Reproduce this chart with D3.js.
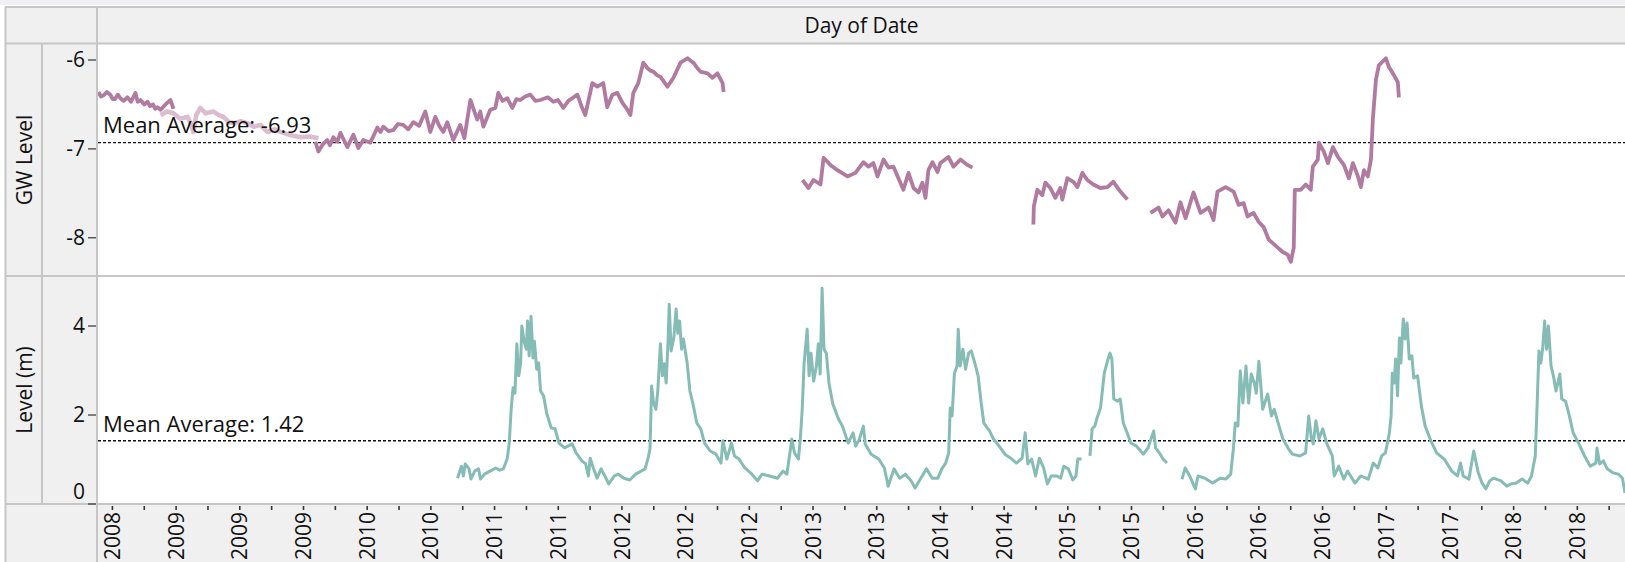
<!DOCTYPE html>
<html><head><meta charset="utf-8">
<script src="https://cdn.jsdelivr.net/npm/d3@7"></script>
<style>
body{margin:0;background:#fff;}
svg{display:block;font-family:"Open Sans","Noto Sans",sans-serif;}
</style>
</head><body>
<svg id="chart" width="1625" height="562"></svg>
<script>
// ---------------- DATA ----------------
const headerTitle = "Day of Date";
const rowTitles = ["GW Level", "Level (m)"];
const xDomain = ["2008-07-11", "2018-12-18"];
const xTickDates = ["2008-08-16","2009-01-22","2009-06-30","2009-12-06","2010-05-14","2010-10-20",
  "2011-03-28","2011-09-03","2012-02-09","2012-07-17","2012-12-23","2013-05-31","2013-11-06",
  "2014-04-14","2014-09-20","2015-02-26","2015-08-04","2016-01-10","2016-06-17","2016-11-23",
  "2017-05-01","2017-10-07","2018-03-15","2018-08-21"];
const xTickLabels = ["2008","2009","2009","2009","2010","2010","2011","2011","2012","2012","2012",
  "2013","2013","2014","2014","2015","2015","2016","2016","2016","2017","2017","2018","2018"];
const gwTicks = [-6, -7, -8];
const gwDomain = [-8.43, -5.82];
const levelTicks = [0, 2, 4];
const levelDomain = [0, 5.124];
const gwMean = -6.93;
const levelMean = 1.42;

// [decimal year, value]; null value = gap in record
const gwLevel = [
 [2008.527,-6.36],[2008.545,-6.41],[2008.560,-6.40],[2008.585,-6.36],[2008.609,-6.39],[2008.625,-6.44],
 [2008.640,-6.44],[2008.660,-6.39],[2008.677,-6.43],[2008.700,-6.46],[2008.725,-6.42],[2008.750,-6.47],
 [2008.780,-6.37],[2008.795,-6.47],[2008.814,-6.45],[2008.840,-6.50],[2008.862,-6.47],[2008.880,-6.52],
 [2008.900,-6.50],[2008.915,-6.55],[2008.930,-6.53],[2008.951,-6.56],
 [2008.985,-6.50],[2009.019,-6.45],[2009.040,-6.55],[2009.050,null],
 [2010.010,-6.92],[2010.031,-7.03],[2010.060,-6.95],[2010.092,-6.90],[2010.110,-6.96],[2010.133,-6.87],
 [2010.160,-6.92],[2010.181,-6.82],[2010.205,-6.90],
 [2010.229,-6.98],[2010.270,-6.84],[2010.304,-6.99],[2010.338,-6.90],[2010.386,-6.93],[2010.434,-6.76],
 [2010.455,-6.81],[2010.475,-6.75],[2010.510,-6.80],[2010.543,-6.79],[2010.575,-6.72],[2010.611,-6.73],
 [2010.645,-6.78],[2010.680,-6.70],[2010.720,-6.74],[2010.762,-6.58],[2010.796,-6.81],
 [2010.830,-6.64],[2010.860,-6.75],[2010.885,-6.81],[2010.912,-6.70],[2010.953,-6.90],[2011.001,-6.73],[2011.029,-6.88],
 [2011.070,-6.45],[2011.117,-6.67],[2011.138,-6.58],[2011.159,-6.75],[2011.206,-6.56],[2011.241,-6.54],
 [2011.261,-6.37],[2011.290,-6.46],[2011.323,-6.43],[2011.357,-6.54],[2011.385,-6.44],[2011.412,-6.45],
 [2011.445,-6.41],[2011.480,-6.39],[2011.515,-6.46],[2011.549,-6.45],
 [2011.600,-6.42],[2011.638,-6.47],[2011.670,-6.45],[2011.706,-6.54],[2011.740,-6.46],[2011.767,-6.43],
 [2011.802,-6.39],[2011.830,-6.52],[2011.856,-6.62],
 [2011.904,-6.26],[2011.938,-6.30],[2011.979,-6.26],[2012.006,-6.53],[2012.041,-6.39],[2012.075,-6.37],
 [2012.109,-6.48],[2012.140,-6.55],[2012.164,-6.62],[2012.184,-6.37],[2012.218,-6.26],[2012.252,-6.03],[2012.280,-6.09],
 [2012.300,-6.12],[2012.321,-6.13],[2012.345,-6.17],[2012.369,-6.19],[2012.395,-6.25],[2012.417,-6.30],
 [2012.458,-6.20],[2012.480,-6.12],[2012.506,-6.03],[2012.553,-5.98],
 [2012.594,-6.03],[2012.620,-6.09],[2012.642,-6.13],[2012.690,-6.15],[2012.724,-6.20],[2012.758,-6.15],[2012.793,-6.26],
 [2012.800,-6.36],[2012.900,null],
 [2013.339,-7.35],[2013.380,-7.44],[2013.414,-7.35],[2013.462,-7.40],[2013.483,-7.10],[2013.530,-7.18],
 [2013.578,-7.24],[2013.647,-7.31],[2013.701,-7.27],[2013.756,-7.15],[2013.790,-7.20],[2013.824,-7.16],
 [2013.852,-7.31],[2013.893,-7.12],[2013.927,-7.21],[2013.961,-7.20],[2013.995,-7.33],[2014.029,-7.46],
 [2014.064,-7.27],[2014.098,-7.44],[2014.132,-7.49],[2014.159,-7.38],[2014.180,-7.55],[2014.200,-7.24],
 [2014.228,-7.15],[2014.262,-7.26],[2014.282,-7.16],[2014.337,-7.09],[2014.371,-7.20],[2014.419,-7.12],
 [2014.467,-7.18],[2014.501,-7.21],[2014.600,null],
 [2014.918,-7.85],[2014.921,-7.65],[2014.945,-7.46],[2014.979,-7.52],[2015.000,-7.38],[2015.034,-7.44],
 [2015.068,-7.55],[2015.102,-7.44],[2015.116,-7.57],[2015.150,-7.33],[2015.191,-7.37],[2015.219,-7.43],
 [2015.253,-7.27],[2015.287,-7.35],[2015.328,-7.40],[2015.376,-7.44],[2015.424,-7.43],[2015.465,-7.37],
 [2015.513,-7.48],[2015.561,-7.57],[2015.640,null],
 [2015.719,-7.72],[2015.774,-7.66],[2015.801,-7.76],[2015.842,-7.69],[2015.890,-7.83],[2015.924,-7.60],
 [2015.959,-7.78],[2016.013,-7.49],[2016.061,-7.72],[2016.116,-7.66],[2016.150,-7.80],[2016.177,-7.48],
 [2016.232,-7.43],[2016.287,-7.48],[2016.321,-7.63],[2016.355,-7.61],[2016.382,-7.76],[2016.423,-7.72],
 [2016.457,-7.82],[2016.492,-7.88],[2016.526,-8.02],[2016.588,-8.11],[2016.622,-8.16],[2016.656,-8.19],
 [2016.677,-8.27],[2016.697,-8.11],[2016.704,-7.46],[2016.745,-7.46],[2016.779,-7.40],[2016.813,-7.46],
 [2016.827,-7.20],[2016.861,-7.12],[2016.868,-6.93],[2016.902,-7.03],[2016.930,-7.16],[2016.964,-6.98],
 [2016.998,-7.09],[2017.039,-7.18],[2017.073,-7.33],[2017.101,-7.16],[2017.135,-7.31],[2017.155,-7.43],
 [2017.176,-7.24],[2017.203,-7.31],[2017.224,-7.12],[2017.237,-6.67],[2017.258,-6.22],[2017.278,-6.06],
 [2017.326,-5.98],[2017.347,-6.08],[2017.381,-6.17],[2017.408,-6.25],[2017.415,-6.42]
];

const gwLevelLight = [
 [2008.951,-6.62],[2008.995,-6.58],[2009.040,-6.60],[2009.085,-6.66],[2009.135,-6.64],[2009.160,-6.72],
 [2009.176,-6.81],[2009.195,-6.62],[2009.224,-6.54],[2009.260,-6.60],[2009.313,-6.58],[2009.350,-6.62],
 [2009.381,-6.64],[2009.420,-6.70],[2009.450,-6.71],[2009.500,-6.69],[2009.545,-6.71],[2009.590,-6.75],
 [2009.634,-6.73],[2009.682,-6.81],[2009.730,-6.78],[2009.791,-6.82],[2009.850,-6.85],[2009.908,-6.87],
 [2009.970,-6.86],[2010.031,-6.88]
];

const riverLevel = [
 [2010.982,0.58],[2011.009,0.85],[2011.022,0.63],[2011.035,0.90],[2011.061,0.79],[2011.074,0.56],
 [2011.100,0.74],[2011.126,0.79],[2011.139,0.56],[2011.166,0.67],[2011.205,0.74],[2011.244,0.81],
 [2011.270,0.76],[2011.296,0.79],[2011.323,1.03],[2011.336,1.37],[2011.349,2.13],[2011.362,2.61],
 [2011.375,2.49],[2011.388,3.60],[2011.401,2.88],[2011.414,3.17],[2011.422,4.00],[2011.440,3.62],
 [2011.453,3.48],[2011.461,4.11],[2011.472,3.33],[2011.485,4.22],[2011.498,3.28],[2011.508,3.66],
 [2011.524,3.03],[2011.537,3.17],[2011.550,2.54],[2011.571,2.43],[2011.592,2.04],[2011.623,1.71],
 [2011.650,1.69],[2011.676,1.37],[2011.715,1.26],[2011.767,1.35],[2011.793,1.15],[2011.833,0.97],
 [2011.859,0.90],[2011.877,0.63],[2011.890,1.03],[2011.911,0.81],[2011.937,0.58],[2011.964,0.79],
 [2011.990,0.63],[2012.016,0.45],[2012.055,0.63],[2012.081,0.67],[2012.120,0.58],[2012.160,0.54],
 [2012.199,0.67],[2012.238,0.74],[2012.264,0.79],[2012.285,1.03],[2012.298,1.24],[2012.309,2.65],
 [2012.322,2.27],[2012.338,2.13],[2012.351,2.54],[2012.369,3.60],[2012.382,2.88],[2012.395,3.15],
 [2012.408,2.72],[2012.421,3.66],[2012.429,4.49],[2012.442,3.44],[2012.460,3.73],[2012.476,4.38],
 [2012.487,3.84],[2012.500,4.11],[2012.513,3.48],[2012.526,3.71],[2012.552,3.15],[2012.570,2.54],
 [2012.591,2.25],[2012.617,1.82],[2012.644,1.69],[2012.670,1.37],[2012.709,1.19],[2012.748,1.12],
 [2012.782,0.92],[2012.795,1.42],[2012.822,1.01],[2012.853,1.37],[2012.874,1.08],[2012.905,1.01],
 [2012.945,0.81],[2012.984,0.70],[2013.031,0.52],[2013.062,0.67],[2013.115,0.63],[2013.167,0.58],
 [2013.206,0.74],[2013.232,0.67],[2013.250,1.08],[2013.266,1.46],[2013.284,1.15],[2013.311,1.01],
 [2013.324,1.46],[2013.337,2.13],[2013.350,3.17],[2013.371,3.93],[2013.384,2.88],[2013.397,3.39],
 [2013.415,2.76],[2013.434,3.10],[2013.447,3.60],[2013.460,2.92],[2013.473,4.85],[2013.486,3.48],
 [2013.502,3.39],[2013.520,2.72],[2013.546,2.25],[2013.585,1.91],[2013.612,1.75],[2013.651,1.37],
 [2013.685,1.60],[2013.703,1.30],[2013.729,1.46],[2013.755,1.75],[2013.768,1.35],[2013.808,1.12],
 [2013.860,1.01],[2013.899,0.81],[2013.925,0.40],[2013.965,0.79],[2014.004,0.58],[2014.043,0.67],
 [2014.082,0.52],[2014.109,0.36],[2014.148,0.58],[2014.187,0.79],[2014.226,0.58],[2014.265,0.58],
 [2014.292,0.79],[2014.318,0.92],[2014.339,1.15],[2014.349,2.16],[2014.362,1.98],[2014.378,2.94],
 [2014.396,3.10],[2014.404,3.93],[2014.417,3.10],[2014.436,3.48],[2014.454,3.03],[2014.475,3.39],
 [2014.493,3.44],[2014.514,3.21],[2014.540,2.88],[2014.561,2.27],[2014.579,1.82],[2014.619,1.64],
 [2014.645,1.46],[2014.684,1.30],[2014.723,1.12],[2014.763,1.03],[2014.802,0.92],[2014.841,1.03],
 [2014.862,1.60],[2014.880,0.90],[2014.906,1.01],[2014.933,0.63],[2014.959,1.03],[2014.988,0.81],
 [2015.014,0.45],[2015.040,0.63],[2015.079,0.63],[2015.105,0.58],[2015.126,0.85],[2015.157,0.79],
 [2015.188,0.54],[2015.209,0.63],[2015.222,1.01],[2015.248,1.01],[2015.280,null],
 [2015.305,1.08],[2015.320,1.69],[2015.338,1.75],[2015.351,1.91],[2015.377,2.16],[2015.403,2.94],
 [2015.429,3.26],[2015.442,3.39],[2015.455,3.26],[2015.468,2.36],[2015.494,2.31],[2015.512,2.36],
 [2015.533,1.82],[2015.559,1.60],[2015.585,1.37],[2015.624,1.30],[2015.671,1.12],[2015.702,1.26],
 [2015.741,1.64],[2015.754,1.26],[2015.779,1.15],[2015.805,1.01],[2015.831,0.92],[2015.880,null],
 [2015.935,0.56],[2015.956,0.81],[2015.987,0.63],[2016.026,0.34],[2016.044,0.63],[2016.091,0.58],
 [2016.143,0.47],[2016.195,0.58],[2016.233,0.56],[2016.267,0.67],[2016.285,1.24],[2016.298,1.82],
 [2016.316,1.75],[2016.332,2.99],[2016.350,2.27],[2016.371,3.10],[2016.389,2.27],[2016.407,2.92],
 [2016.428,2.72],[2016.441,2.49],[2016.459,3.21],[2016.485,2.13],[2016.519,2.47],[2016.545,1.98],
 [2016.563,2.13],[2016.597,1.75],[2016.623,1.46],[2016.661,1.24],[2016.687,1.12],[2016.739,1.08],
 [2016.778,1.15],[2016.799,1.98],[2016.817,1.48],[2016.830,1.35],[2016.848,1.87],[2016.869,1.46],
 [2016.895,1.69],[2016.921,1.37],[2016.960,1.08],[2016.973,0.63],[2017.004,0.85],[2017.038,0.56],
 [2017.064,0.74],[2017.115,0.47],[2017.154,0.63],[2017.206,0.56],[2017.240,0.92],[2017.271,0.81],
 [2017.297,1.08],[2017.323,1.15],[2017.349,1.57],[2017.362,1.98],[2017.370,2.94],[2017.383,2.72],
 [2017.393,3.26],[2017.406,2.43],[2017.419,3.73],[2017.429,3.17],[2017.445,4.16],[2017.458,3.71],
 [2017.471,4.07],[2017.486,3.26],[2017.504,3.33],[2017.517,2.83],[2017.543,2.88],[2017.569,2.20],
 [2017.595,1.75],[2017.634,1.42],[2017.673,1.15],[2017.725,1.01],[2017.777,0.74],[2017.816,0.63],
 [2017.837,0.92],[2017.855,0.63],[2017.894,0.56],[2017.927,1.19],[2017.958,0.70],[2017.984,0.47],
 [2018.010,0.34],[2018.036,0.52],[2018.062,0.58],[2018.114,0.52],[2018.153,0.40],[2018.179,0.45],
 [2018.218,0.47],[2018.257,0.56],[2018.296,0.47],[2018.322,0.63],[2018.348,1.08],[2018.361,2.27],
 [2018.373,3.44],[2018.386,3.17],[2018.399,3.51],[2018.412,4.11],[2018.425,3.48],[2018.438,4.00],
 [2018.456,3.10],[2018.472,2.88],[2018.490,2.54],[2018.516,2.92],[2018.529,2.36],[2018.555,2.31],
 [2018.581,1.98],[2018.607,1.60],[2018.646,1.35],[2018.685,1.08],[2018.724,0.85],[2018.763,0.92],
 [2018.770,1.26],[2018.789,0.90],[2018.814,0.97],[2018.840,0.79],[2018.879,0.70],[2018.918,0.67],
 [2018.944,0.58],[2018.962,0.25]
];

// ---------------- LAYOUT ----------------
const W = 1625, H = 562;
const frameL = 5, rowHdrR = 42, axisR = 97, plotL = 98;
const frameT = 7, hdrB = 44, paneMid = 276, paneB = 504;
const gray = "#f0f0f0", border = "#c6c6c6";
const purple = "#b07aa1", purpleLight = "#dbbdd0", teal = "#86bcb6";
const fs = 21;

const svg = d3.select("#chart");
const locale = d3.formatLocale({decimal: ".", thousands: ",", grouping: [3], currency: ["", ""], minus: "-"});
const fmt2 = locale.format(".2f");
const fmtInt = locale.format("d");

function decYear(t) {
  const y = Math.floor(t);
  const a = new Date(y, 0, 1), b = new Date(y + 1, 0, 1);
  return new Date(+a + (t - y) * (b - a));
}
const parse = d3.timeParse("%Y-%m-%d");

const x = d3.scaleTime().domain(xDomain.map(parse)).range([plotL, W]);
const yTop = d3.scaleLinear().domain(gwDomain).range([paneMid, hdrB]);
const yBot = d3.scaleLinear().domain(levelDomain).range([paneB, paneMid]);

// backgrounds
svg.append("rect").attr("x", 0).attr("y", 0).attr("width", W).attr("height", 5).attr("fill", "#f0f0f3");
svg.append("rect").attr("x", frameL).attr("y", frameT).attr("width", W - frameL).attr("height", H - frameT).attr("fill", gray);
svg.append("rect").attr("x", plotL).attr("y", hdrB).attr("width", W - plotL).attr("height", paneB - hdrB).attr("fill", "#fff");

// clip
const defs = svg.append("defs");
defs.append("clipPath").attr("id", "clipTop").append("rect")
  .attr("x", plotL).attr("y", hdrB).attr("width", W - plotL).attr("height", paneMid - hdrB);
defs.append("clipPath").attr("id", "clipBot").append("rect")
  .attr("x", plotL).attr("y", paneMid).attr("width", W - plotL).attr("height", paneB - paneMid);

// mean lines
svg.append("line").attr("x1", plotL).attr("x2", W).attr("y1", yTop(gwMean)).attr("y2", yTop(gwMean))
  .attr("stroke", "#111").attr("stroke-width", 1.4).attr("stroke-dasharray", "3,2");
svg.append("line").attr("x1", plotL).attr("x2", W).attr("y1", yBot(levelMean)).attr("y2", yBot(levelMean))
  .attr("stroke", "#111").attr("stroke-width", 1.4).attr("stroke-dasharray", "3,2");

// lines
const lineTop = d3.line().defined(d => d[1] !== null).x(d => x(decYear(d[0]))).y(d => yTop(d[1]));
const lineBot = d3.line().defined(d => d[1] !== null).x(d => x(decYear(d[0]))).y(d => yBot(d[1]));
const gTop = svg.append("g").attr("clip-path", "url(#clipTop)");
gTop.append("path").datum(gwLevel).attr("d", lineTop).attr("fill", "none")
  .attr("stroke", purple).attr("stroke-width", 3.8).attr("stroke-linejoin", "round");
gTop.append("path").datum(gwLevelLight).attr("d", lineTop).attr("fill", "none")
  .attr("stroke", purpleLight).attr("stroke-width", 4.6).attr("stroke-linejoin", "round");
const gBot = svg.append("g").attr("clip-path", "url(#clipBot)");
gBot.append("path").datum(riverLevel).attr("d", lineBot).attr("fill", "none")
  .attr("stroke", teal).attr("stroke-width", 3).attr("stroke-linejoin", "round");

// mean labels
svg.append("text").attr("x", 103).attr("y", yTop(gwMean) - 10).attr("font-size", 22).attr("fill", "#111")
  .text("Mean Average: " + fmt2(gwMean));
svg.append("text").attr("x", 103).attr("y", yBot(levelMean) - 9).attr("font-size", 22).attr("fill", "#111")
  .text("Mean Average: " + fmt2(levelMean));

// borders
const bl = (x1, y1, x2, y2) => svg.append("line").attr("x1", x1).attr("y1", y1).attr("x2", x2).attr("y2", y2)
  .attr("stroke", border).attr("stroke-width", 2);
bl(frameL, frameT, W, frameT);
bl(frameL, hdrB - 0.5, W, hdrB - 0.5);
bl(frameL, paneMid, W, paneMid);
bl(frameL, paneB, W, paneB);
bl(frameL + 0.5, frameT, frameL + 0.5, H);
bl(axisR, frameT, axisR, H);
bl(rowHdrR, hdrB, rowHdrR, paneB);

// header text
svg.append("text").attr("x", (plotL + W) / 2).attr("y", (frameT + hdrB) / 2).attr("dy", "0.35em")
  .attr("text-anchor", "middle").attr("font-size", fs).attr("fill", "#111").text(headerTitle);

// row titles
[[rowTitles[0], (hdrB + paneMid) / 2], [rowTitles[1], (paneMid + paneB) / 2]].forEach(([t, cy]) => {
  svg.append("text").attr("transform", `translate(${(frameL + rowHdrR) / 2 + 1},${cy}) rotate(-90)`)
    .attr("dy", "0.35em").attr("text-anchor", "middle").attr("font-size", fs).attr("fill", "#111").text(t);
});

// y axes
function yAxis(scale, ticks) {
  const g = svg.append("g");
  ticks.forEach(v => {
    const yy = scale(v);
    g.append("line").attr("x1", axisR - 9).attr("x2", axisR - 1).attr("y1", yy).attr("y2", yy)
      .attr("stroke", "#333").attr("stroke-width", 1.2);
    const ly = Math.min(yy, paneB - 12);
    g.append("text").attr("x", axisR - 12).attr("y", ly).attr("dy", "0.35em").attr("text-anchor", "end")
      .attr("font-size", fs).attr("fill", "#111").text(fmtInt(v));
  });
}
yAxis(yTop, gwTicks);
yAxis(yBot, levelTicks);

// x axis
const tickDates = xTickDates.map(parse);
const minor = tickDates.map((d, i) => {
  const next = i < tickDates.length - 1 ? tickDates[i + 1] : new Date(+d + (d - tickDates[i - 1]));
  return new Date((+d + +next) / 2);
});
const gx = svg.append("g");
tickDates.concat(minor).forEach(d => {
  const xx = x(d);
  if (xx > plotL && xx < W) gx.append("line").attr("x1", xx).attr("x2", xx).attr("y1", paneB + 2).attr("y2", paneB + 6)
    .attr("stroke", "#333").attr("stroke-width", 1.6);
});
tickDates.forEach((d, i) => {
  gx.append("text").attr("transform", `translate(${x(d)},${paneB + 8}) rotate(-90)`)
    .attr("dy", "0.36em").attr("text-anchor", "end").attr("font-size", fs).attr("fill", "#111")
    .text(xTickLabels[i]);
});
</script>
</body></html>
